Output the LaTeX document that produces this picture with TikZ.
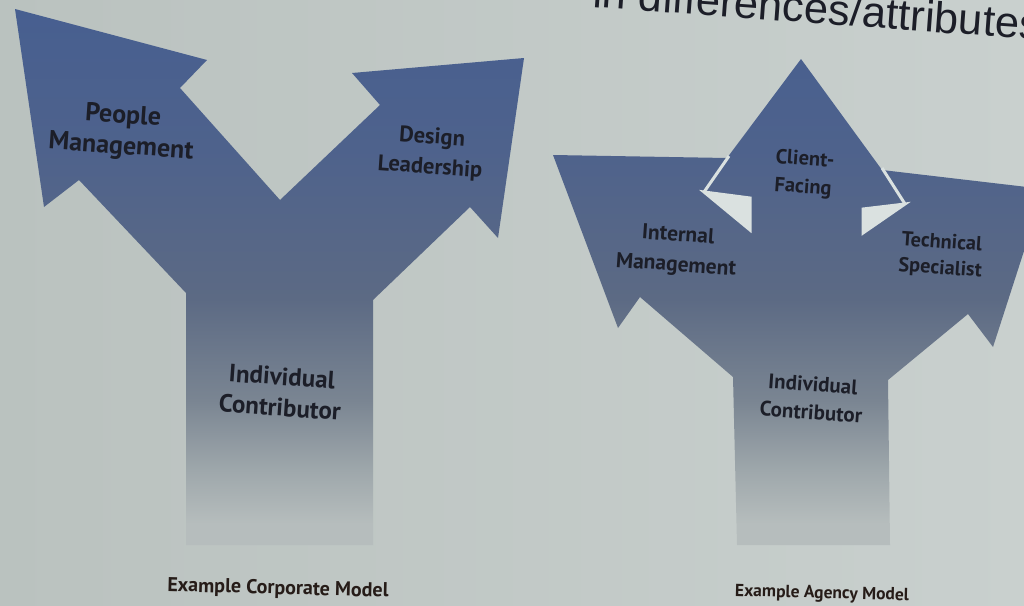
\documentclass[tikz,border=0pt]{standalone}
\usepackage{fontspec}
\setmainfont{PT Sans}
\newfontfamily\titular{Liberation Sans}
\usepackage{tikz}
\definecolor{fondoizq}{RGB}{186,194,191}
\definecolor{fondoder}{RGB}{201,208,206}
\definecolor{azul}{RGB}{71,95,144}
\definecolor{azulmedio}{RGB}{78,98,140}
\definecolor{pizarra}{RGB}{92,106,132}
\definecolor{gris}{RGB}{122,133,146}
\definecolor{grisclaro}{RGB}{158,167,171}
\definecolor{desvan}{RGB}{182,189,189}
\definecolor{huecoclaro}{RGB}{218,225,224}
\definecolor{tinta}{RGB}{28,30,40}
\definecolor{tintapie}{RGB}{38,28,24}
\pgfdeclareverticalshading{desvanece}{100bp}{color(0bp)=(desvan); color(25bp)=(desvan);
  color(27bp)=(desvan); color(32bp)=(grisclaro); color(38.5bp)=(gris);
  color(48bp)=(pizarra); color(62bp)=(azulmedio); color(75bp)=(azul); color(100bp)=(azul)}
\tikzset{
  etiq/.style 2 args={font=\bfseries\fontsize{#1}{#2}\selectfont, text=tinta,
    align=center, rotate=-4, inner sep=0pt},
  pie/.style={font=\bfseries\fontsize{#1}{#1}\selectfont, text=tintapie,
    rotate=-1.5, inner sep=0pt},
  titulo/.style={font=\titular\fontsize{43.5}{48}\selectfont, text=tinta, inner sep=0pt},
  hueco/.style={fill=huecoclaro, draw=huecoclaro, line width=3pt, line join=miter}
}

\begin{document}
\begin{tikzpicture}[x=1pt, y=-1pt]
  \useasboundingbox (0,0) rectangle (1024,605);
  \clip (0,0) rectangle (1024,605);
  \shade[left color=fondoizq, right color=fondoder] (0,0) rectangle (1024,605);

  \shade[shading=desvanece]
    (15,9) -- (207,60) -- (180,88) -- (280,200) -- (380,105) -- (352,73)
      -- (524,58) -- (498,238) -- (470,207) -- (373,300) -- (373,545)
      -- (186,545) -- (186,293) -- (79,180) -- (44,207) -- cycle
    (801,59) -- (882,170) -- (1044,189) -- (993,347) -- (968,314)
      -- (888,380) -- (890,545) -- (737,545) -- (733,377) -- (640,297)
      -- (618,328) -- (553,155) -- (727,158) -- cycle;
  \filldraw[hueco] (704,192) -- (750,198) -- (750,230) -- cycle;
  \draw[hueco] (729,156) -- (704,192);
  \filldraw[hueco] (905,204) -- (863,209) -- (863,233) -- cycle;
  \draw[hueco] (882,168) -- (905,204);

  \node[titulo, anchor=base west, rotate=-4.2] (titulo) at (592,7) {in differences/attributes};

  \node[etiq={26}{31}] (peop) at (122,132) {People\\Management};
  \node[etiq={22.5}{30}] (desg) at (431,153) {Design\\Leadership};
  \node[etiq={25}{31}] (indA) at (281,392) {Individual\\Contributor};
  \node[etiq={20.5}{28}] (clie) at (804,174) {Client-\\Facing};
  \node[etiq={21.5}{30}] (intm) at (677,251) {Internal\\Management};
  \node[etiq={20.3}{26}] (tecn) at (941,256) {Technical\\Specialist};
  \node[etiq={21}{28}] (indB) at (812,398) {Individual\\Contributor};

  \node[pie=20] (corp) at (278,589) {Example Corporate Model};
  \node[pie=17.5] (agen) at (822,594) {Example Agency Model};
\end{tikzpicture}
\end{document}
